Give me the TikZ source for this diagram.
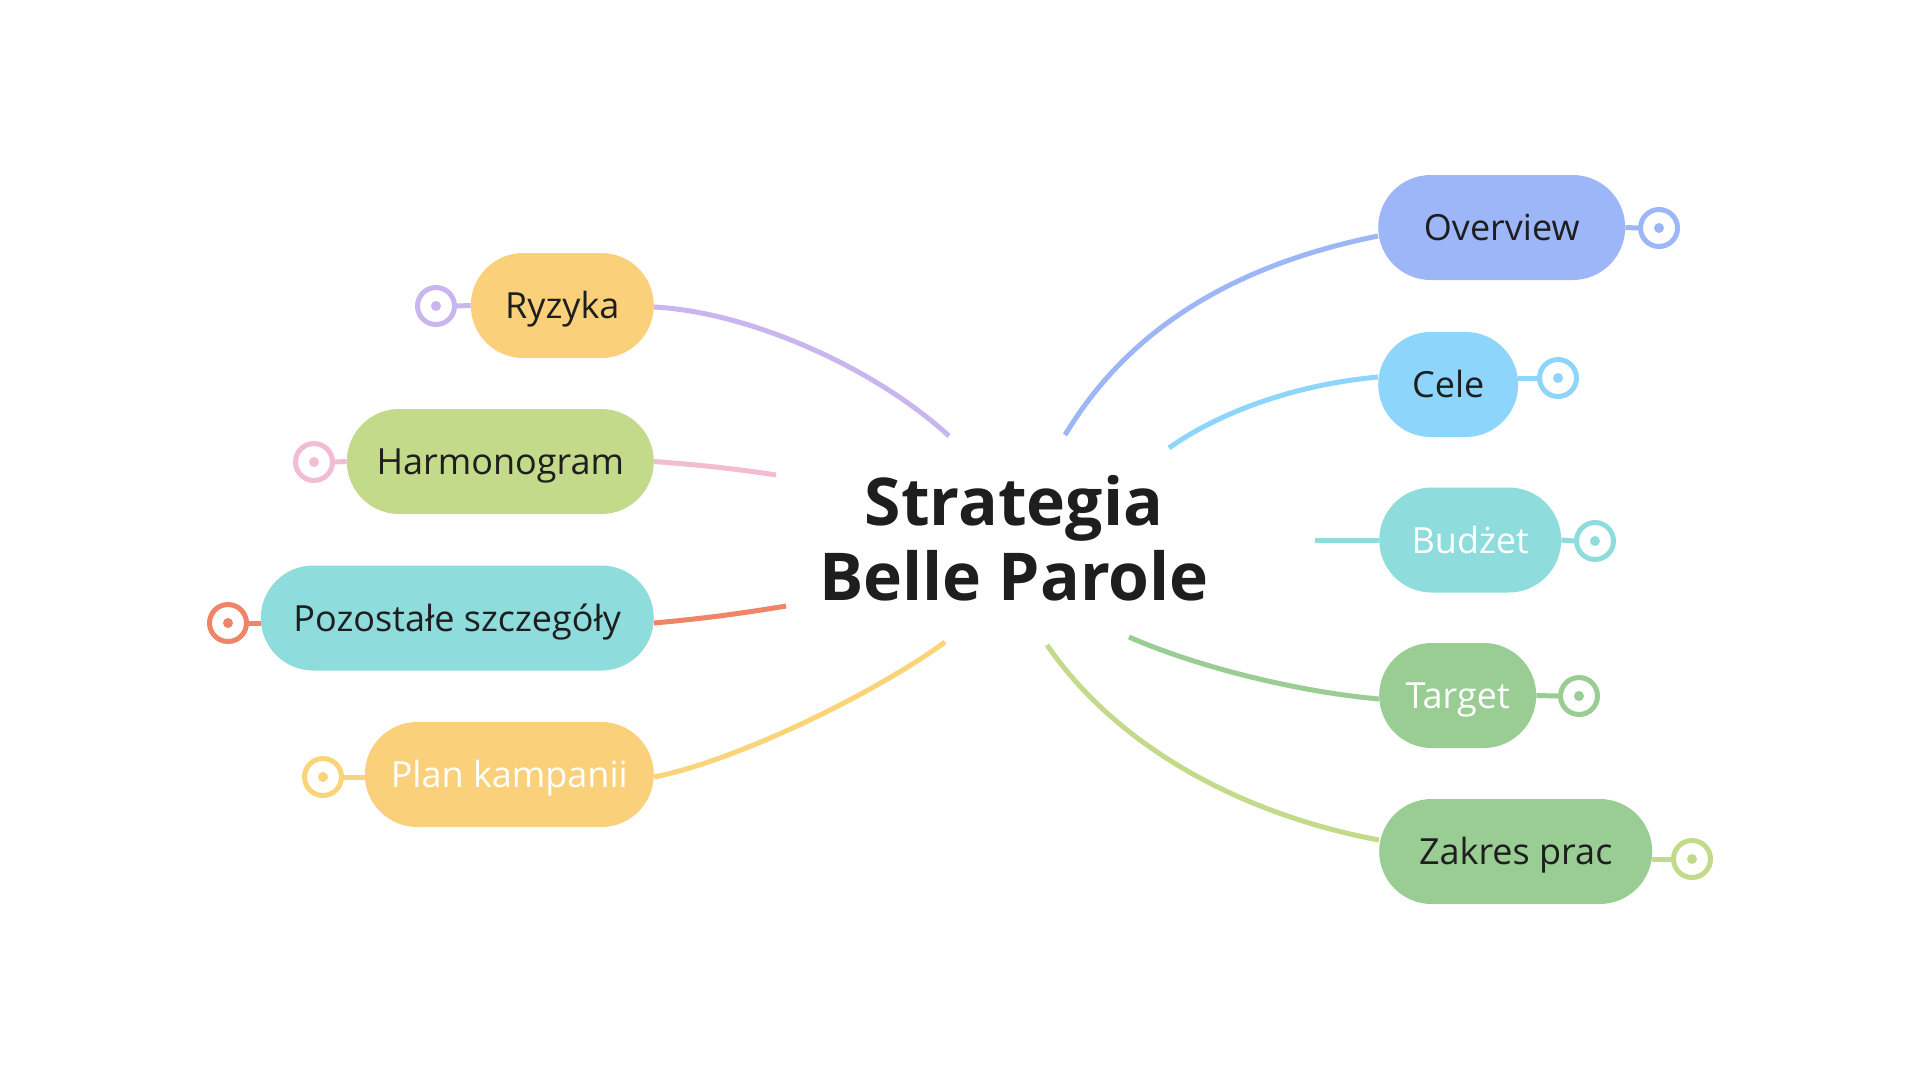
\documentclass[tikz,border=0pt]{standalone}
\usepackage{fontspec}
\setmainfont{Open Sans}
\usepackage{xcolor}
\definecolor{cInk}{HTML}{1E1E1E}
\definecolor{cYellow}{HTML}{FAD17A}
\definecolor{cLime}{HTML}{C2DA8A}
\definecolor{cTeal}{HTML}{8EDCDC}
\definecolor{cBlue}{HTML}{9DB6F8}
\definecolor{cSky}{HTML}{8DD5FB}
\definecolor{cGreen}{HTML}{9ACD94}
\definecolor{cLav}{HTML}{C9B6EE}
\definecolor{cPink}{HTML}{F2BCD2}
\definecolor{cCoral}{HTML}{F08466}
\definecolor{cGold}{HTML}{F9D478}

\begin{document}
\begin{tikzpicture}[x=1pt,y=-1pt,
      topic/.style={rounded corners=52.5pt,
             minimum height=105pt,
             inner sep=0pt,
             text height=30pt, text depth=4pt,
             font=\fontsize{36}{42}\selectfont,
             text=cInk,
             },
      fold/.style={circle, draw=#1, fill=white, line width=5pt,
             minimum size=37pt, inner sep=0pt},
      branch/.style={draw=#1, line width=5pt},
      ]
      \fill[white] (0,0) rectangle (1920,1080);
      \useasboundingbox (0,0) rectangle (1920,1080);

      \node[font=\fontsize{66}{75}\selectfont\bfseries, text=cInk, align=center] (root) at (1014,538) {Strategia\\Belle Parole};

      \node[topic, fill=cYellow, minimum width=183pt, anchor=east] (ryz) at (654,305.5) {Ryzyka};
      \node[topic, fill=cLime, minimum width=307pt, anchor=east] (harm) at (654,461.5) {Harmonogram};
      \node[topic, fill=cTeal, minimum width=393pt, anchor=east] (poz) at (654,618) {Pozostałe szczegóły};
      \node[topic, fill=cYellow, minimum width=289pt, anchor=east, text=white] (plan) at (654,774.5) {Plan kampanii};
      \node[topic, fill=cBlue, minimum width=247pt, anchor=west] (ovw) at (1378,227.5) {Overview};
      \node[topic, fill=cSky, minimum width=140pt, anchor=west] (cele) at (1378,384.5) {Cele};
      \node[topic, fill=cTeal, minimum width=182pt, anchor=west, text=white] (bud) at (1379,540) {Budżet};
      \node[topic, fill=cGreen, minimum width=157pt, anchor=west, text=white] (tgt) at (1379,695.5) {Target};
      \node[topic, fill=cGreen, minimum width=273pt, anchor=west] (zak) at (1379,851.5) {Zakres prac};

      \coordinate (rootRyz) at (949,436);
      \coordinate (rootHarm) at (776,475);
      \coordinate (rootPoz) at (786,606);
      \coordinate (rootPlan) at (945,642);
      \coordinate (rootOvw) at (1065,435);
      \coordinate (rootCele) at (1169,448);
      \coordinate (rootBud) at (1315,540);
      \coordinate (rootTgt) at (1129,637);
      \coordinate (rootZak) at (1047,645);

      \draw[branch=cLav] ([yshift=-1.5pt]ryz.east) .. controls (750,312) and (875,368) .. (rootRyz);
      \draw[branch=cPink] (harm.east) .. controls (715,466) and (750,471) .. (rootHarm);
      \draw[branch=cCoral] ([yshift=-5pt]poz.east) .. controls (710,618) and (750,612) .. (rootPoz);
      \draw[branch=cGold] ([yshift=-2.5pt]plan.east) .. controls (740,760) and (880,690) .. (rootPlan);
      \draw[branch=cBlue] ([yshift=-8.5pt]ovw.west) .. controls (1229,266) and (1127,332) .. (rootOvw);
      \draw[branch=cSky] ([yshift=7.5pt]cele.west) .. controls (1290,385) and (1215,415) .. (rootCele);
      \draw[branch=cTeal] (bud.west) -- (rootBud);
      \draw[branch=cGreen] ([yshift=-3.5pt]tgt.west) .. controls (1300,692) and (1200,668) .. (rootTgt);
      \draw[branch=cLime] ([yshift=11.5pt]zak.west) .. controls (1260,818) and (1125,758) .. (rootZak);

      \node[fold=cLav] (ryzc) at (436,306) {};
      \node[fold=cPink] (harmc) at (314,462) {};
      \node[fold=cCoral] (pozc) at (228,623) {};
      \node[fold=cGold] (planc) at (323,777) {};
      \node[fold=cBlue] (ovwc) at (1659,228) {};
      \node[fold=cSky] (celec) at (1558,378) {};
      \node[fold=cTeal] (budc) at (1595,541) {};
      \node[fold=cGreen] (tgtc) at (1579,696) {};
      \node[fold=cLime] (zakc) at (1692,859) {};

      \draw[branch=cLav] (ryzc.east) -- (ryz.west);
      \draw[branch=cPink] (harmc.east) -- (harm.west);
      \draw[branch=cCoral] (pozc.east) -- ([yshift=-5pt]poz.west);
      \draw[branch=cGold] (planc.east) -- ([yshift=-2.5pt]plan.west);
      \draw[branch=cBlue] (ovwc.west) -- (ovw.east);
      \draw[branch=cSky] (celec.west) -- ([yshift=6.5pt]cele.east);
      \draw[branch=cTeal] (budc.west) -- (bud.east);
      \draw[branch=cGreen] (tgtc.west) -- (tgt.east);
      \draw[branch=cLime] (zakc.west) -- ([yshift=-7.5pt]zak.east);

      \foreach \n/\col in {ryzc/cLav, harmc/cPink, pozc/cCoral, planc/cGold, ovwc/cBlue, celec/cSky, budc/cTeal, tgtc/cGreen, zakc/cLime}
        \fill[\col] (\n) circle (5);
    \end{tikzpicture}
\end{document}
